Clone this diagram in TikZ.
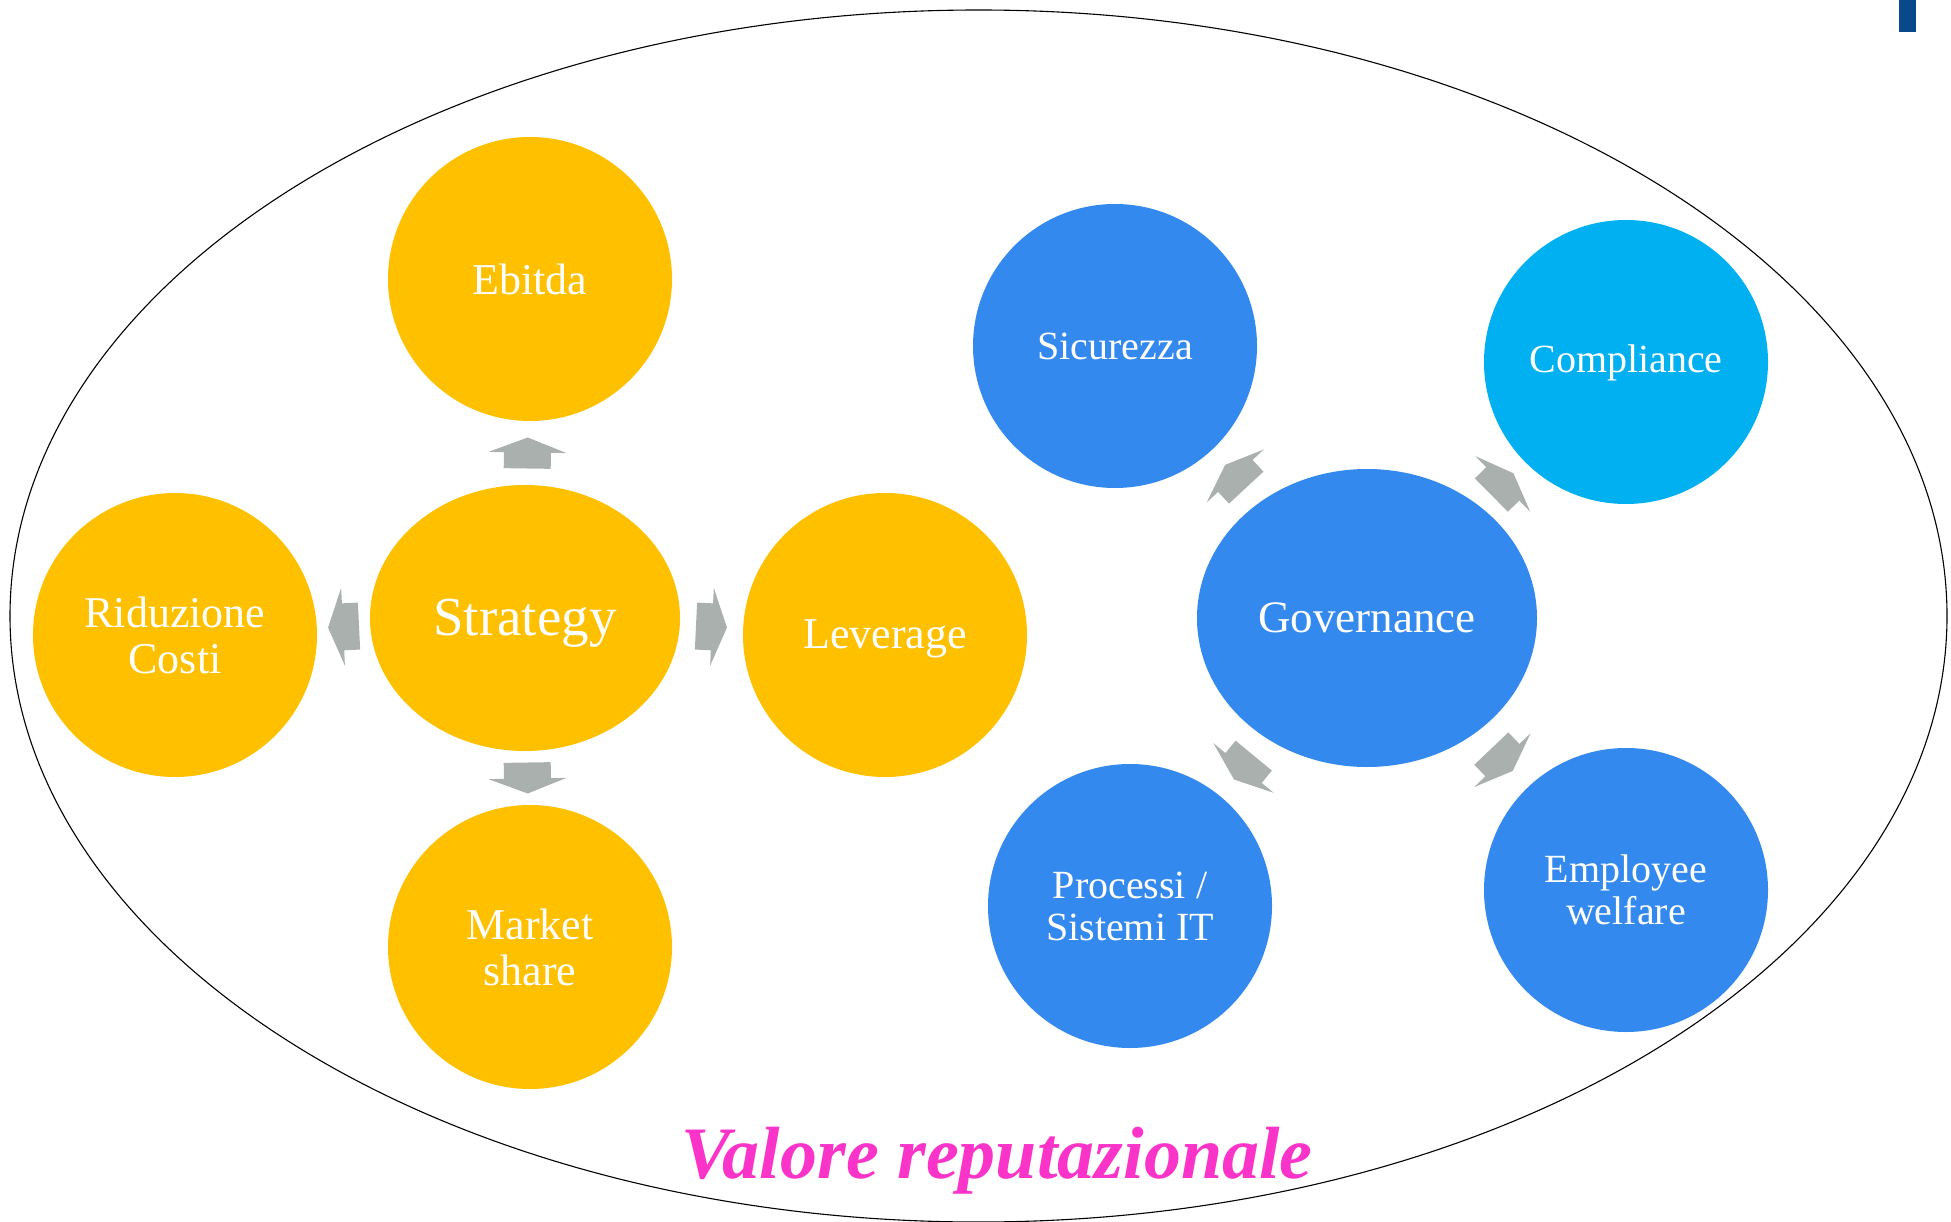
\documentclass[tikz,border=0pt]{standalone}
\usepackage{fontspec}
\setmainfont{Liberation Serif}
\usetikzlibrary{shapes.geometric}
\definecolor{ygold}{RGB}{255,192,0}
\definecolor{bblue}{RGB}{51,137,238}
\definecolor{ccyan}{RGB}{0,176,240}
\definecolor{agrey}{RGB}{170,176,174}
\definecolor{dblue}{RGB}{10,72,140}
\definecolor{vmag}{RGB}{250,52,200}
\newcommand{\lowered}[2]{\raisebox{-#1}[0pt][0pt]{#2}}
\begin{document}
\begin{tikzpicture}[x=1pt,y=-1pt,
  bubble/.style={circle, minimum size=284pt, inner sep=0pt, text=white, align=center,
    font=\fontsize{44}{46}\selectfont},
  smallbubble/.style={bubble, font=\fontsize{40}{42}\selectfont},
  hub/.style={ellipse, inner sep=0pt, text=white, align=center},
  garrow/.pic={\fill[agrey] (-15.5,-23.5) -- (0.5,-23.5) -- (0.5,-39) -- (15.5,0)
      -- (0.5,39) -- (0.5,23.5) -- (-15.5,23.5) -- cycle;},
  onpath/.style={midway, sloped, allow upside down}]
\useasboundingbox (0,0) rectangle (1951,1222);
% outer frame
\node[draw=black, line width=1.1pt, ellipse, inner sep=0pt, minimum width=1937pt,
  minimum height=1212pt] (frame) at (978.5,616) {};
% corner mark
\fill[dblue] (1899,0) rectangle (1916,32);
% left group
\node[hub, fill=ygold, minimum width=310pt, minimum height=266pt,
  font=\fontsize{55}{58}\selectfont] (str) at (525,618) {\lowered{17pt}{Strategy}};
\node[bubble, fill=ygold] (ebi) at (530,279) {Ebitda};
\node[bubble, fill=ygold] (rid) at (175,635) {Riduzione\\Costi};
\node[bubble, fill=ygold] (lev) at (885,635) {\lowered{13pt}{Leverage}};
\node[bubble, fill=ygold] (mkt) at (530,947) {Market\\share};
% right group
\node[hub, fill=bblue, minimum width=340pt, minimum height=298pt,
  font=\fontsize{45}{48}\selectfont] (gov) at (1367,618) {Governance};
\node[smallbubble, fill=bblue] (sic) at (1115,346) {Sicurezza};
\node[smallbubble, fill=ccyan] (com) at (1626,362) {\lowered{11pt}{Compliance}};
\node[smallbubble, fill=bblue] (pro) at (1130,906) {Processi /\\Sistemi IT};
\node[smallbubble, fill=bblue] (emp) at (1626,890) {Employee\\welfare};
% arrows
\path (str) -- (ebi) pic[onpath] {garrow};
\path (str) -- (rid) pic[onpath] {garrow};
\path (str) -- (lev) pic[onpath] {garrow};
\path (str) -- (mkt) pic[onpath] {garrow};
\path (gov) -- (sic) pic[onpath] {garrow};
\path (gov) -- (com) pic[onpath] {garrow};
\path (gov) -- (pro) pic[onpath] {garrow};
\path (gov) -- (emp) pic[onpath] {garrow};
% title
\node[anchor=base, text=vmag, inner sep=0pt,
  font=\fontsize{74}{78}\selectfont\bfseries\itshape] (title) at (997,1178) {Valore reputazionale};
\end{tikzpicture}
\end{document}
